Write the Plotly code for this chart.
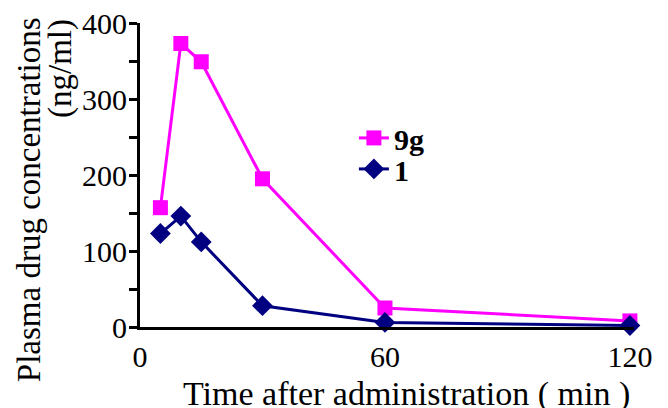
import plotly.graph_objects as go

time_min = [5, 10, 15, 30, 60, 120]
conc_9g = [157, 373, 349, 195, 25, 8]
conc_1 = [123, 146, 112, 28, 6, 2]
series_names = ["9g", "1"]
x_ticks = [0, 60, 120]
y_ticks = [0, 100, 200, 300, 400]
y_title_lines = ["Plasma drug concentrations", "(ng/ml)"]
x_title = "Time after administration ( min )"

FONT = "'Liberation Serif', 'Times New Roman', Times, serif"

fig = go.Figure()
fig.add_trace(go.Scatter(
    x=time_min, y=conc_9g, name=series_names[0], mode="lines+markers",
    line=dict(color="#FF00FF", width=3),
    marker=dict(symbol="square", size=15, color="#FF00FF"),
    cliponaxis=False, legend="legend",
))
fig.add_trace(go.Scatter(
    x=time_min, y=conc_1, name=series_names[1], mode="lines+markers",
    line=dict(color="#000080", width=3),
    marker=dict(symbol="diamond", size=16, color="#000080"),
    cliponaxis=False, legend="legend2",
))

leg_common = dict(
    xanchor="left", yanchor="middle",
    font=dict(family=FONT, size=30, color="black", weight="bold"),
    bgcolor="rgba(0,0,0,0)", itemwidth=30,
)

fig.update_layout(
    width=660, height=400,
    margin=dict(l=132, r=34, t=15, b=81),
    paper_bgcolor="white", plot_bgcolor="white",
    font=dict(family=FONT, size=30, color="black"),
    showlegend=True,
    legend=dict(x=0.433, y=0.622, **leg_common),
    legend2=dict(x=0.433, y=0.52, **leg_common),
    annotations=[
        dict(text=y_title_lines[0], xref="paper", yref="paper", x=-0.225, y=0.42,
             xanchor="center", yanchor="middle", textangle=-90, showarrow=False,
             font=dict(family=FONT, size=33, color="black")),
        dict(text=y_title_lines[1], xref="paper", yref="paper", x=-0.16, y=0.852,
             xanchor="center", yanchor="middle", textangle=-90, showarrow=False,
             font=dict(family=FONT, size=33, color="black")),
        dict(text=x_title, xref="paper", yref="paper", x=0.54, y=-0.22,
             xanchor="center", yanchor="middle", showarrow=False,
             font=dict(family=FONT, size=34, color="black")),
    ],
)
fig.update_xaxes(
    range=[0, 121], tickvals=x_ticks, ticktext=[str(v) for v in x_ticks],
    showline=True, linecolor="black", linewidth=3, showgrid=False, zeroline=False,
    ticks="", ticklabelstandoff=1, automargin=False, ticklabeloverflow="allow",
)
fig.update_yaxes(
    range=[0, 400], tickvals=y_ticks, ticktext=[str(v) for v in y_ticks],
    showline=True, linecolor="black", linewidth=3, showgrid=False, zeroline=False,
    ticks="outside", ticklen=8, tickwidth=3, tickcolor="black", ticklabelstandoff=-4,
    minor=dict(dtick=50, ticks="outside", ticklen=8, tickwidth=3, tickcolor="black"),
    automargin=False, ticklabeloverflow="allow",
)

fig.write_html("out.html")
